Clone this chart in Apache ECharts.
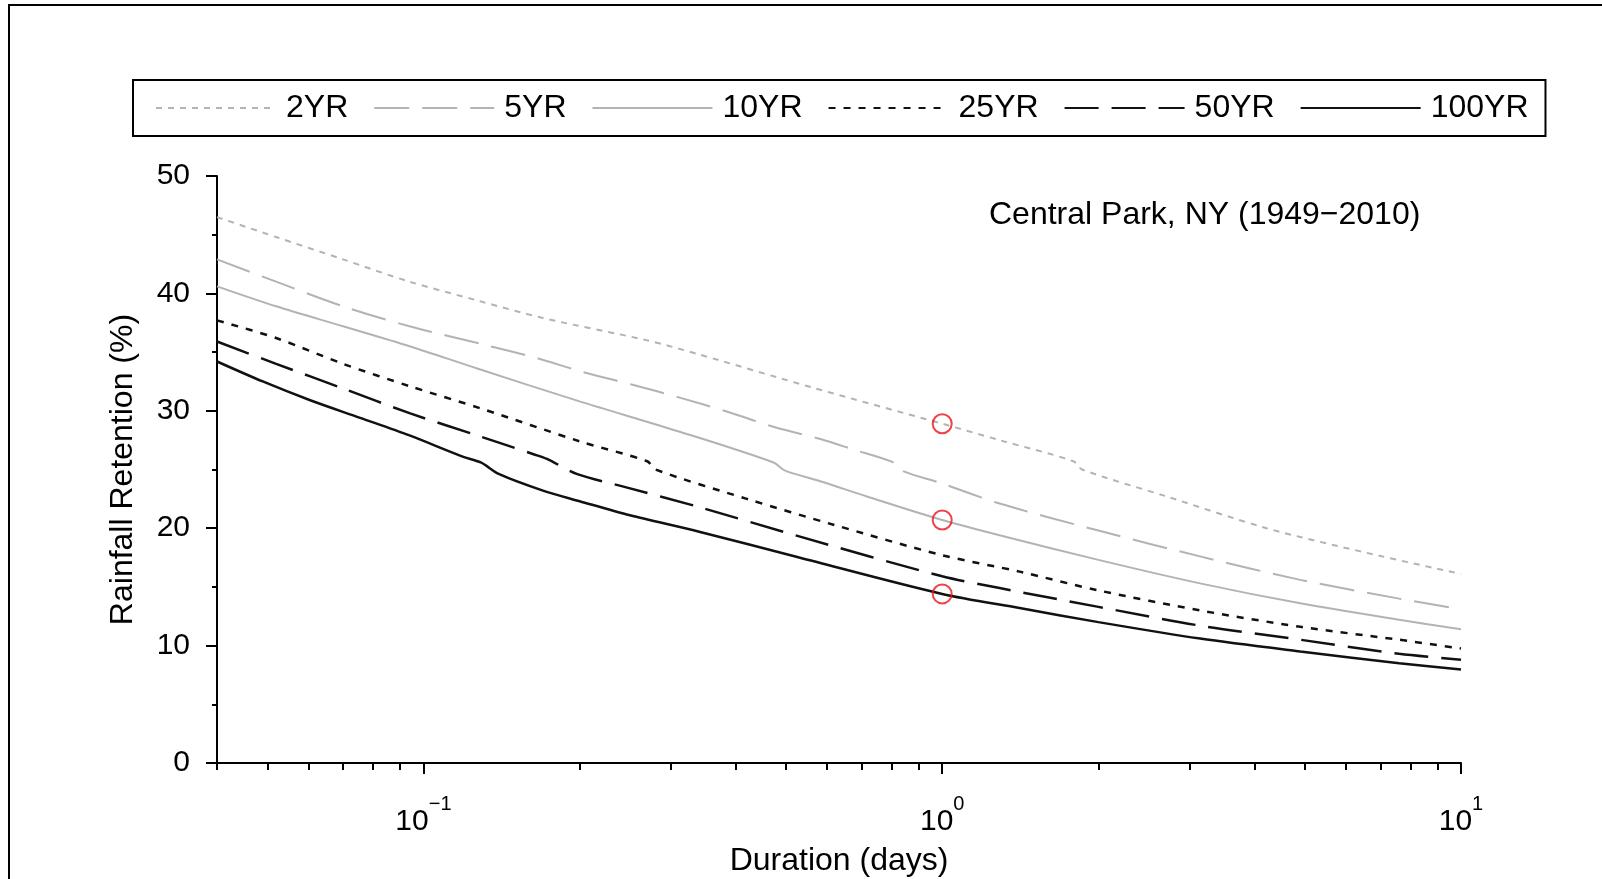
<!DOCTYPE html>
<html><head><meta charset="utf-8">
<script src="https://cdn.jsdelivr.net/npm/echarts@6/dist/echarts.min.js"></script>
<style>html,body{margin:0;padding:0;background:#fff}#c{width:1602px;height:879px}</style>
</head><body><div id="c"></div><script>
const seriesNames = ['2YR', '5YR', '10YR', '25YR', '50YR', '100YR'];

const dur2yr = [0.04, 0.052, 0.07, 0.094, 0.127, 0.17, 0.27, 0.34, 0.56, 1.0, 1.29, 1.79, 1.86, 2.71, 4.22, 6.58, 10];
const ret2yr = [46.5, 44.8, 42.9, 41.0, 39.4, 37.9, 36.0, 34.8, 32.0, 28.9, 27.5, 25.7, 25.0, 22.7, 20.0, 17.9, 16.1];

const dur5yr = [0.04, 0.052, 0.07, 0.094, 0.129, 0.165, 0.203, 0.254, 0.313, 0.387, 0.476, 0.582, 0.674, 0.805, 0.836, 1.0, 1.29, 2.0, 3.14, 4.9, 7.6, 10];
const ret5yr = [42.9, 41.0, 38.9, 37.2, 35.7, 34.5, 33.3, 32.2, 31.1, 29.9, 28.6, 27.6, 26.7, 25.6, 24.9, 23.8, 22.1, 19.8, 17.6, 15.6, 14.0, 13.1];

const dur10yr = [0.04, 0.052, 0.07, 0.094, 0.127, 0.20, 0.313, 0.473, 0.498, 0.582, 0.716, 1.0, 1.29, 2.0, 3.14, 4.9, 7.6, 10];
const ret10yr = [40.6, 38.9, 37.2, 35.5, 33.6, 30.8, 28.2, 25.6, 24.9, 24.0, 22.7, 20.7, 19.4, 17.3, 15.3, 13.6, 12.2, 11.4];

const dur25yr = [0.04, 0.052, 0.07, 0.094, 0.129, 0.20, 0.27, 0.28, 0.42, 0.617, 1.0, 1.41, 2.0, 3.14, 4.9, 7.6, 10];
const ret25yr = [37.7, 36.2, 34.0, 32.1, 30.2, 27.4, 25.7, 25.0, 22.5, 20.3, 17.7, 16.3, 14.7, 13.0, 11.6, 10.5, 9.75];

const dur50yr = [0.04, 0.052, 0.07, 0.094, 0.129, 0.163, 0.173, 0.198, 0.245, 0.34, 0.53, 1.0, 1.29, 2.0, 3.14, 4.9, 7.6, 10];
const ret50yr = [35.9, 34.0, 31.9, 29.8, 27.8, 26.3, 25.9, 24.6, 23.5, 21.8, 19.3, 15.9, 14.9, 13.3, 11.7, 10.5, 9.3, 8.8];

const dur100yr = [0.04, 0.049, 0.0605, 0.0755, 0.094, 0.119, 0.129, 0.14, 0.17, 0.20, 0.25, 0.34, 0.53, 1.0, 1.41, 2.0, 3.14, 4.9, 7.6, 10];
const ret100yr = [34.2, 32.5, 30.9, 29.4, 27.9, 26.1, 25.6, 24.6, 23.2, 22.3, 21.1, 19.7, 17.5, 14.4, 13.2, 12.0, 10.6, 9.5, 8.5, 7.96];

const markDur = [1, 1, 1];
const markRet = [28.9, 20.7, 14.4];

const majorTicks = [0.1, 1, 10];
const minorTicks = [0.04, 0.05, 0.06, 0.07, 0.08, 0.09, 0.2, 0.3, 0.4, 0.5, 0.6, 0.7, 0.8, 0.9, 2, 3, 4, 5, 6, 7, 8, 9];
const annotation = 'Central Park, NY (1949\u22122010)';
const xName = 'Duration (days)';
const yName = 'Rainfall Retention (%)';

const FONT = '"Liberation Sans", Arial, Helvetica, sans-serif';
const GRAY = '#b3b3b3';
const BLACK = '#111';

const durs = [dur2yr, dur5yr, dur10yr, dur25yr, dur50yr, dur100yr];
const rets = [ret2yr, ret5yr, ret10yr, ret25yr, ret50yr, ret100yr];
const styles = [
  {color: GRAY, width: 2, type: [6, 6]},
  {color: GRAY, width: 2, type: [35, 13]},
  {color: GRAY, width: 2, type: 'solid'},
  {color: BLACK, width: 2.5, type: [7, 8]},
  {color: BLACK, width: 2.5, type: [34, 13]},
  {color: BLACK, width: 2.5, type: 'solid'}
];

const lineSeries = seriesNames.map((name, k) => ({
  name: name,
  type: 'line',
  xAxisIndex: 0,
  data: durs[k].map((d, i) => [d, rets[k][i]]),
  symbol: 'none',
  smooth: 0.3,
  color: styles[k].color,
  lineStyle: {color: styles[k].color, width: styles[k].width, type: styles[k].type},
  z: 2
}));

const markSeries = {
  name: 'marks',
  type: 'scatter',
  xAxisIndex: 0,
  data: markDur.map((d, i) => [d, markRet[i]]),
  symbol: 'circle',
  symbolSize: 19,
  itemStyle: {color: 'rgba(0,0,0,0)', borderColor: '#e8141b', borderWidth: 2},
  z: 5
};

function expLabel(v) {
  const e = Math.round(Math.log10(v));
  const s = e < 0 ? '\u2212' + (-e) : String(e);
  return '{b|10}{s|' + s + '}';
}

const axisLineStyle = {color: '#000', width: 2};

const option = {
  animation: false,
  backgroundColor: '#fff',
  textStyle: {fontFamily: FONT, color: '#000'},
  grid: {left: 217, right: 141, top: 176, bottom: 116, containLabel: false, outerBoundsMode: 'none'},
  legend: {
    data: seriesNames,
    left: 133, top: 80,
    padding: [11, 17, 11, 22],
    borderColor: '#000', borderWidth: 2,
    itemWidth: 120, itemHeight: 14, itemGap: 25,
    itemStyle: {opacity: 0},
    textStyle: {fontSize: 32, color: '#000', lineHeight: 34, padding: [0, 0, 0, 5], fontFamily: FONT}
  },
  xAxis: [{
    type: 'log', logBase: 10, min: 0.04, max: 10, position: 'bottom',
    axisLine: {show: true, lineStyle: axisLineStyle},
    axisTick: {show: true, customValues: majorTicks, length: 11, lineStyle: axisLineStyle},
    axisLabel: {
      customValues: majorTicks, margin: 31, formatter: expLabel,
      rich: {
        b: {fontSize: 30, padding: [13, 0, 0, 0], color: '#000', fontFamily: FONT},
        s: {fontSize: 20, verticalAlign: 'top', color: '#000', fontFamily: FONT}
      }
    },
    splitLine: {show: false},
    name: xName, nameLocation: 'middle', nameGap: 82,
    nameTextStyle: {fontSize: 32, color: '#000', fontFamily: FONT}
  }, {
    type: 'log', logBase: 10, min: 0.04, max: 10, position: 'bottom',
    axisLine: {show: false},
    axisTick: {show: true, customValues: minorTicks, length: 7, lineStyle: axisLineStyle},
    axisLabel: {show: false},
    splitLine: {show: false}
  }],
  yAxis: {
    type: 'value', min: 0, max: 50, interval: 10,
    axisLine: {show: true, lineStyle: axisLineStyle},
    axisTick: {show: true, length: 11, lineStyle: axisLineStyle},
    minorTick: {show: true, splitNumber: 2, length: 5, lineStyle: axisLineStyle},
    axisLabel: {fontSize: 30, color: '#000', margin: 27, fontFamily: FONT},
    splitLine: {show: false},
    name: yName, nameLocation: 'middle', nameGap: 78,
    nameTextStyle: {fontSize: 32, color: '#000', fontFamily: FONT}
  },
  graphic: [
    {type: 'rect', shape: {x: 9, y: 5, width: 1700, height: 1000}, style: {fill: 'none', stroke: '#000', lineWidth: 2}, silent: true},
    {type: 'text', left: 989, top: 199, style: {text: annotation, font: '32px ' + FONT, fill: '#000'}, silent: true}
  ],
  series: lineSeries.concat([markSeries])
};

const chart = echarts.init(document.getElementById('c'), null, {renderer: 'canvas'});
chart.setOption(option);
</script></body></html>
